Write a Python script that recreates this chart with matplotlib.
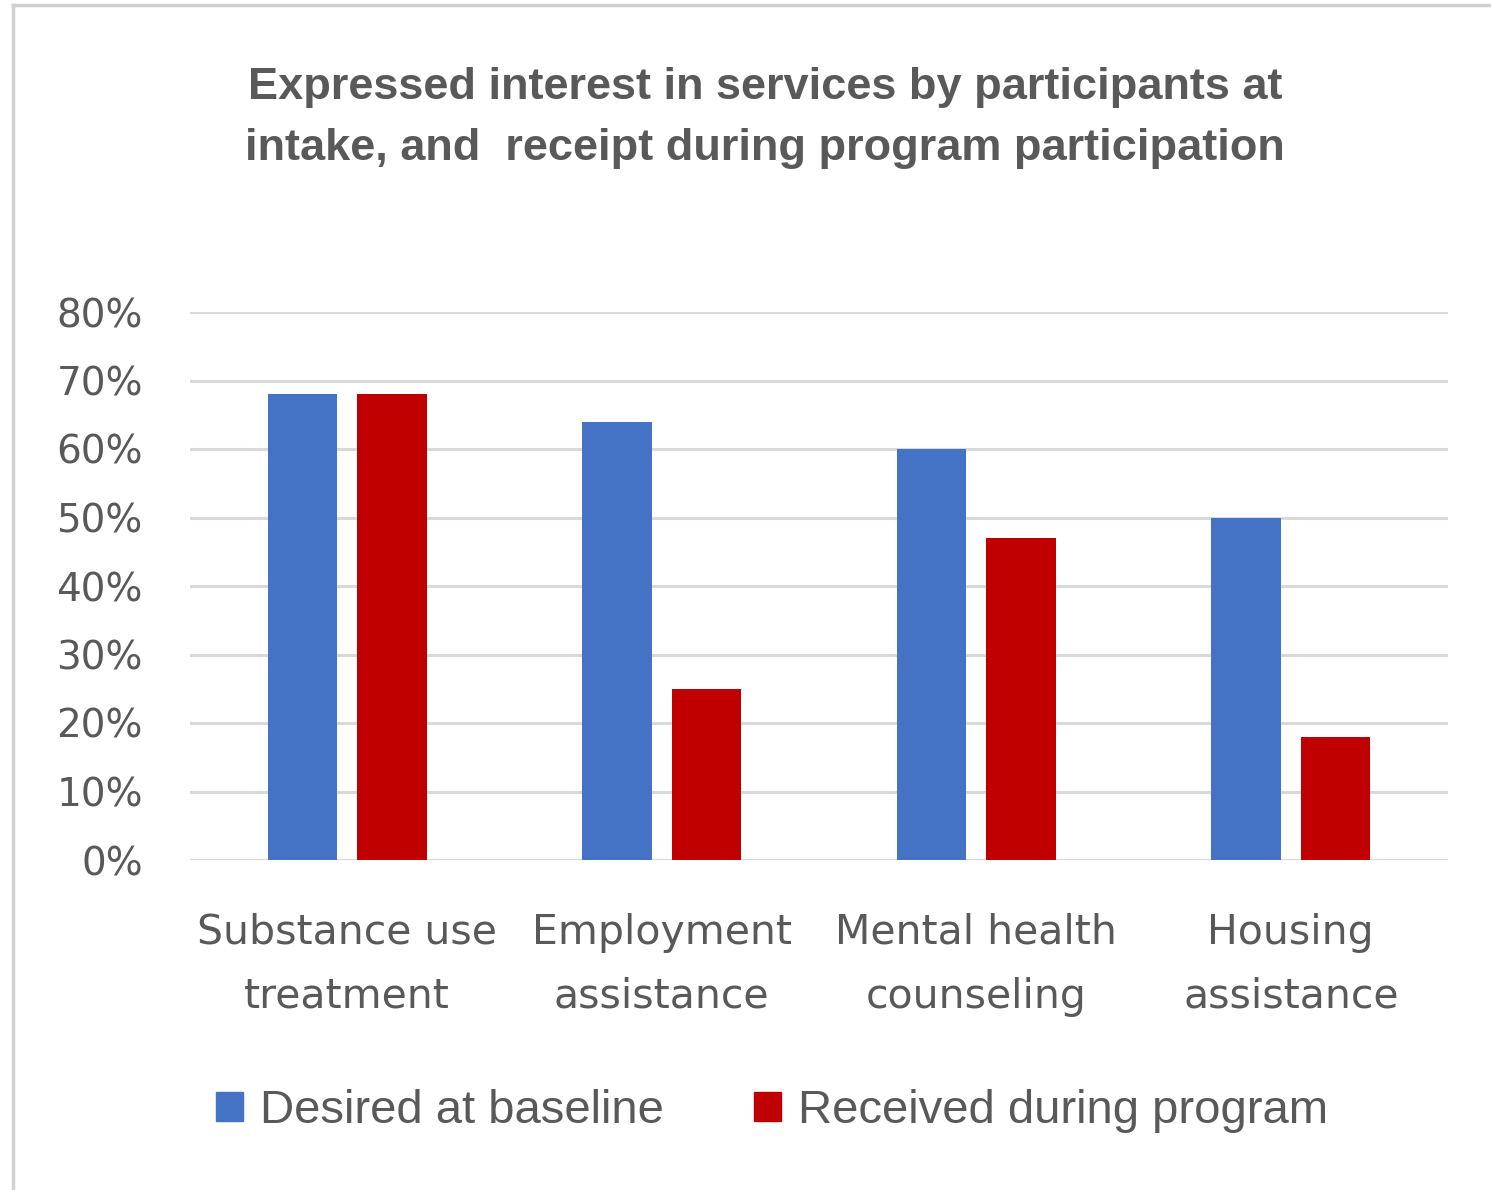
import matplotlib
matplotlib.use("Agg")
import matplotlib.pyplot as plt
import numpy as np
from matplotlib.patches import Patch
from matplotlib.lines import Line2D

categories = ["Substance use\ntreatment", "Employment\nassistance",
              "Mental health\ncounseling", "Housing\nassistance"]
desired = [0.68, 0.64, 0.60, 0.50]
received = [0.68, 0.25, 0.47, 0.18]
yticks = [0.0, 0.1, 0.2, 0.3, 0.4, 0.5, 0.6, 0.7, 0.8]
ytick_labels = ["0%", "10%", "20%", "30%", "40%", "50%", "60%", "70%", "80%"]

BLUE = "#4472C4"
RED = "#C00000"
TEXT = "#595959"
GRID = "#D9D9D9"
sans = ["Liberation Sans", "DejaVu Sans"]

fig = plt.figure(figsize=(14.91, 11.9), dpi=100)
ax = fig.add_axes([190 / 1491, 1 - 860 / 1190, (1448 - 190) / 1491, (860 - 312) / 1190])

x = np.arange(len(categories))
w = 0.222
ax.bar(x - 0.1425, desired, w, color=BLUE, zorder=3)
ax.bar(x + 0.1425, received, w, color=RED, zorder=3)

ax.set_xlim(-0.5, 3.5)
ax.set_ylim(0, 0.8)
ax.set_yticks(yticks)
ax.set_yticklabels(ytick_labels)
ax.set_xticks(x)
ax.set_xticklabels(categories, linespacing=1.78)
ax.tick_params(axis="both", length=0, labelcolor=TEXT)
ax.tick_params(axis="y", pad=34, labelsize=28)
ax.tick_params(axis="x", pad=38, labelsize=29.5)
ax.grid(axis="y", color=GRID, linewidth=2.2, zorder=0)
for s in ax.spines.values():
    s.set_visible(False)

fig.text(0.513, 1 - 118 / 1190,
         "Expressed interest in services by participants at\nintake, and  receipt during program participation",
         ha="center", va="center", fontsize=32.5, fontweight="bold", color=TEXT,
         family=sans, linespacing=1.65)

handles = [Patch(color=BLUE, label="Desired at baseline"),
           Patch(color=RED, label="Received during program")]
fig.legend(handles=handles, loc="center", ncol=2, frameon=False,
           bbox_to_anchor=(772 / 1491, 1 - 1111 / 1190),
           prop={"family": sans, "size": 34}, labelcolor=TEXT,
           handlelength=0.58, handleheight=0.58, handletextpad=0.36, columnspacing=1.9)

# border of the chart area
fig.add_artist(Line2D([13 / 1491, 13 / 1491], [0, 1 - 5 / 1190], transform=fig.transFigure,
                      color="#D0D0D0", linewidth=2.5))
fig.add_artist(Line2D([13 / 1491, 1], [1 - 5 / 1190, 1 - 5 / 1190], transform=fig.transFigure,
                      color="#D0D0D0", linewidth=2.5))

fig.savefig("out.png", dpi=100)
